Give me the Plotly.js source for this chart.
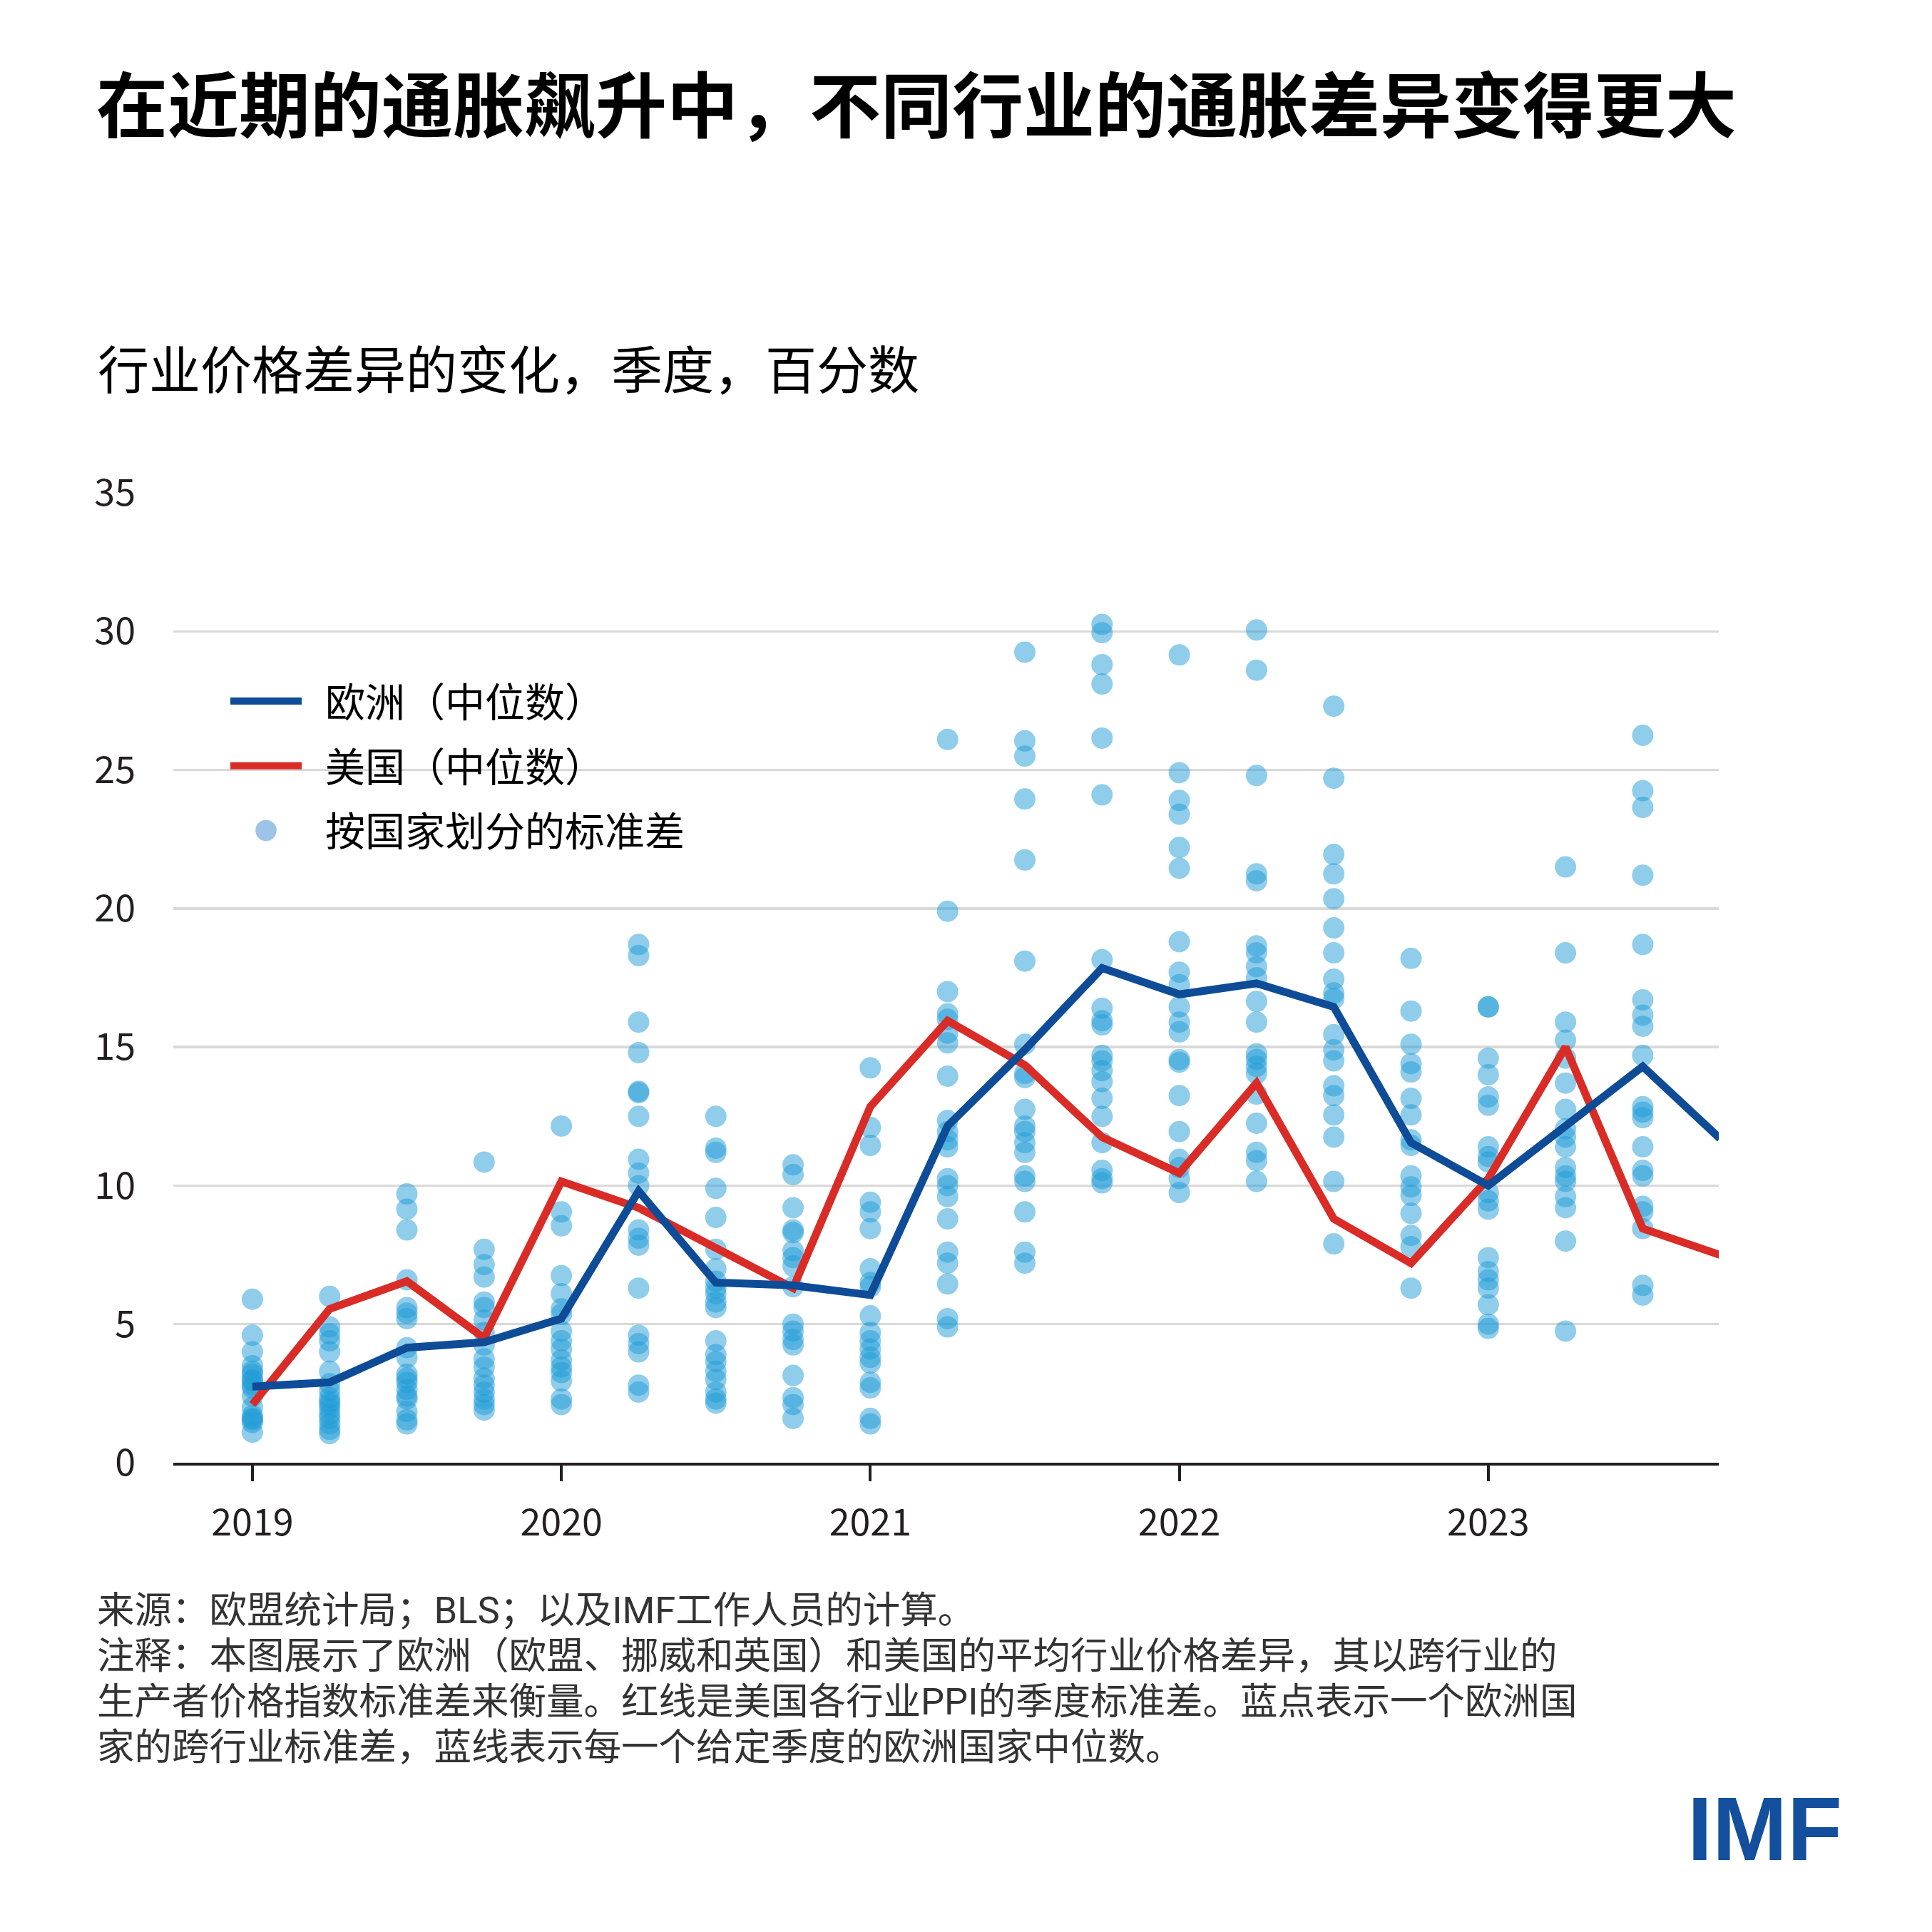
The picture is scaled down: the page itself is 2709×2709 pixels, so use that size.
<!DOCTYPE html>
<html>
<head>
<meta charset="utf-8">
<script src="https://cdn.plot.ly/plotly-3.0.1.min.js"></script>
<style>html,body{margin:0;padding:0;background:#fff;}</style>
</head>
<body>
<div id="chart" style="width:2709px;height:2709px;"></div>
<script>
// ---------------- DATA ----------------
const quarters = ['2019Q1','2019Q2','2019Q3','2019Q4','2020Q1','2020Q2','2020Q3','2020Q4',
                  '2021Q1','2021Q2','2021Q3','2021Q4','2022Q1','2022Q2','2022Q3','2022Q4',
                  '2023Q1','2023Q2','2023Q3','2023Q4'];
const yearTicks = [2019, 2020, 2021, 2022, 2023];
const yearLabels = ['2019', '2020', '2021', '2022', '2023'];
const yTicks = [0, 5, 10, 15, 20, 25, 30, 35];

// Europe median and US sector PPI standard deviation, per quarter
const europeMedian = [2.75, 2.9, 4.15, 4.35, 5.2, 9.8, 6.5, 6.4, 6.05, 12.15, 14.9, 17.85, 16.9, 17.3, 16.45, 11.55, 10.0, 12.15, 14.3, 11.7];
const usMedian     = [2.1, 5.55, 6.55, 4.5, 10.15, 9.2, 7.75, 6.3, 12.85, 15.95, 14.35, 11.75, 10.45, 13.7, 8.8, 7.2, 10.25, 15.0, 8.45, 7.5];

// Cross-sector standard deviation by European country (one list per quarter)
const countrySD2019 = [
  [5.9, 4.6, 4.0, 3.5, 3.3, 3.2, 3.0, 2.95, 2.8, 2.7, 2.4, 2.0, 1.7, 1.6, 1.55, 1.45, 1.1],
  [6.0, 4.9, 4.65, 4.4, 4.0, 3.3, 2.85, 2.6, 2.35, 2.2, 2.1, 1.95, 1.75, 1.6, 1.4, 1.2, 1.05],
  [9.7, 9.15, 8.4, 6.6, 5.6, 5.4, 5.2, 4.15, 3.8, 3.2, 3.05, 2.9, 2.65, 2.4, 2.3, 1.85, 1.55, 1.4],
  [10.85, 7.7, 7.15, 6.7, 5.8, 5.6, 5.15, 4.7, 4.25, 3.75, 3.45, 3.05, 2.8, 2.55, 2.3, 2.1, 1.9]
];
const countrySD2020 = [
  [12.15, 9.05, 8.55, 6.75, 6.1, 5.55, 5.35, 4.75, 4.4, 4.1, 3.7, 3.45, 3.25, 2.95, 2.3, 2.1],
  [18.7, 18.3, 15.9, 14.8, 13.4, 13.35, 12.5, 10.95, 10.45, 10.0, 8.4, 8.1, 7.85, 6.3, 4.6, 4.3, 4.0, 2.8, 2.55],
  [12.5, 11.35, 11.2, 9.9, 8.85, 7.7, 7.0, 6.55, 6.3, 6.1, 5.8, 5.6, 4.4, 3.9, 3.65, 3.3, 3.0, 2.55, 2.3, 2.15],
  [10.75, 10.4, 9.2, 8.4, 8.3, 7.65, 7.4, 7.1, 6.35, 5.0, 4.75, 4.45, 4.25, 3.15, 2.35, 2.1, 1.6]
];
const countrySD2021 = [
  [14.25, 12.1, 11.45, 9.4, 9.05, 8.45, 7.0, 6.5, 6.35, 5.3, 4.7, 4.4, 4.1, 3.8, 3.6, 2.9, 2.7, 1.6, 1.4],
  [26.1, 19.9, 17.0, 16.2, 16.0, 15.5, 15.15, 13.95, 12.35, 11.95, 11.65, 11.4, 10.25, 10.0, 9.6, 8.8, 7.6, 7.2, 6.45, 5.2, 4.9],
  [29.25, 26.05, 25.5, 23.95, 21.75, 18.1, 15.1, 14.05, 13.9, 12.75, 12.15, 11.95, 11.55, 11.2, 10.35, 10.15, 9.05, 7.6, 7.2],
  [30.25, 29.95, 28.8, 28.1, 26.15, 24.1, 18.15, 16.4, 15.95, 15.8, 14.7, 14.5, 14.15, 13.75, 13.15, 12.5, 11.55, 10.55, 10.25, 10.1]
];
const countrySD2022 = [
  [29.15, 24.9, 23.9, 23.4, 22.2, 21.45, 18.8, 17.7, 17.25, 16.45, 15.9, 15.55, 14.55, 14.45, 13.25, 11.95, 10.95, 10.65, 10.25, 9.75],
  [30.05, 28.6, 24.8, 21.25, 21.0, 18.65, 18.4, 17.9, 17.5, 16.65, 15.9, 14.75, 14.55, 14.3, 14.05, 13.3, 12.25, 11.2, 10.9, 10.15],
  [27.3, 24.7, 21.95, 21.25, 20.35, 19.3, 18.4, 17.45, 16.95, 16.75, 15.45, 14.9, 14.5, 13.6, 13.25, 12.55, 11.75, 10.15, 7.9],
  [18.2, 16.3, 15.1, 14.4, 14.1, 13.15, 12.55, 11.65, 11.45, 10.35, 9.95, 9.65, 9.0, 8.2, 7.8, 6.3]
];
const countrySD2023 = [
  [16.45, 16.45, 14.6, 14.0, 13.2, 12.9, 11.4, 11.05, 10.85, 9.75, 9.45, 9.15, 7.4, 6.9, 6.6, 6.3, 5.7, 5.0, 4.85],
  [21.5, 18.4, 15.9, 15.25, 14.6, 13.7, 12.75, 12.05, 11.75, 11.4, 10.65, 10.35, 10.15, 9.6, 9.2, 8.0, 4.75],
  [26.25, 24.25, 23.65, 21.2, 18.7, 16.7, 16.15, 15.75, 14.7, 12.85, 12.65, 12.45, 11.4, 10.55, 10.35, 9.25, 9.05, 8.45, 6.4, 6.05],
  [21.3, 17.5, 17.1, 16.15, 15.65, 14.6, 12.25, 11.95, 11.55, 11.05, 10.85, 10.3, 9.85, 8.8, 8.65, 7.45, 7.15, 6.85, 6.3]
];

const seriesNames = ['欧洲（中位数）', '美国（中位数）', '按国家划分的标准差'];
const titleText = '在近期的通胀飙升中，不同行业的通胀差异变得更大';
const subtitleText = '行业价格差异的变化，季度，百分数';
const footerLines = [
  '来源：欧盟统计局；BLS；以及IMF工作人员的计算。',
  '注释：本图展示了欧洲（欧盟、挪威和英国）和美国的平均行业价格差异，其以跨行业的',
  '生产者价格指数标准差来衡量。红线是美国各行业PPI的季度标准差。蓝点表示一个欧洲国',
  '家的跨行业标准差，蓝线表示每一个给定季度的欧洲国家中位数。'
];

// ---------------- BUILD ----------------
function quarterToX(label) {
  const year = parseInt(label.slice(0, 4), 10);
  const q = parseInt(label.slice(5), 10);
  return year + (q - 1) / 4;
}
const xq = quarters.map(quarterToX);
const allSD = [].concat(countrySD2019, countrySD2020, countrySD2021, countrySD2022, countrySD2023);
const dotX = [], dotY = [];
allSD.forEach((vals, i) => vals.forEach(v => { dotX.push(xq[i]); dotY.push(v); }));

const FONT = '"Noto Sans CJK SC", "Noto Sans", sans-serif';
const FOOTFONT = 'Roboto, "Noto Sans CJK SC", sans-serif';
const INK = '#231f20';
const GAP = '\u2002';

const traces = [
  {
    type: 'scatter', mode: 'markers', x: dotX, y: dotY, showlegend: false,
    marker: { size: 30, color: 'rgb(31,155,215)', opacity: 0.5, line: { width: 0 } },
    cliponaxis: false, hoverinfo: 'skip'
  },
  {
    type: 'scatter', mode: 'lines', x: xq, y: usMedian, name: GAP + seriesNames[1],
    line: { color: '#da2c27', width: 11 }, cliponaxis: false, legendrank: 2, legendgroup: 'us'
  },
  {
    type: 'scatter', mode: 'lines', x: xq, y: europeMedian, name: GAP + seriesNames[0],
    line: { color: '#0e4c97', width: 11 }, cliponaxis: false, legendrank: 1, legendgroup: 'eu'
  },
  {
    type: 'scatter', mode: 'markers', x: [null], y: [null], name: GAP + seriesNames[2],
    marker: { size: 16, color: '#9dc3e6', line: { width: 0 } },
    legendrank: 3, legendgroup: 'sd'
  }
];

const L = 243, R = 2410, T = 691, B = 2051;
const PW = R - L, PH = B - T;
const px = v => (v - L) / PW;
const py = v => (B - v) / PH;

const footerY = [2258, 2322, 2386, 2450];
const annotations = [
  {
    text: subtitleText, xref: 'paper', yref: 'paper', x: px(135), y: py(513),
    xanchor: 'left', yanchor: 'middle', showarrow: false,
    font: { family: FONT, size: 72, color: '#000' }
  },
  {
    text: '<b>IMF</b>', xref: 'paper', yref: 'paper', x: px(2585), y: py(2564),
    xanchor: 'right', yanchor: 'middle', showarrow: false,
    font: { family: '"Liberation Sans", Arial, sans-serif', size: 126, color: '#134f9c' }
  }
];
footerLines.forEach((t, i) => annotations.push({
  text: t, xref: 'paper', yref: 'paper', x: px(135), y: py(footerY[i]),
  xanchor: 'left', yanchor: 'middle', showarrow: false, borderpad: 0,
  font: { family: FOOTFONT, size: 52.5, color: '#333333' }
}));

const layout = {
  width: 2709, height: 2709,
  margin: { l: L, r: 2709 - R, t: T, b: 2709 - B, pad: 0 },
  paper_bgcolor: '#ffffff', plot_bgcolor: '#ffffff',
  title: {
    text: titleText, xref: 'container', yref: 'container',
    x: 135 / 2709, xanchor: 'left', y: 1 - 150 / 2709, yanchor: 'middle',
    font: { family: FONT, size: 100, color: '#000', weight: 700 }
  },
  xaxis: {
    type: 'linear', range: [2018.744, 2023.746],
    tickvals: yearTicks, ticktext: yearLabels,
    showgrid: false, zeroline: false,
    showline: true, linecolor: INK, linewidth: 4,
    ticks: 'outside', ticklen: 22, tickwidth: 4, tickcolor: INK,
    ticklabelstandoff: 14,
    tickfont: { family: FONT, size: 52, color: INK }
  },
  yaxis: {
    range: [0, 35], tickvals: yTicks,
    showgrid: true, gridcolor: '#d9d9d9', gridwidth: 3.5,
    zeroline: false, showline: false, ticks: '',
    ticklabelstandoff: 52,
    tickfont: { family: FONT, size: 52, color: INK }
  },
  legend: {
    x: px(318), y: py(940), xanchor: 'left', yanchor: 'top',
    bgcolor: 'rgba(0,0,0,0)', borderwidth: 0,
    font: { family: FONT, size: 56, color: '#000' },
    itemwidth: 100, tracegroupgap: 15, traceorder: 'grouped'
  },
  shapes: [
    {
      type: 'rect', xref: 'paper', yref: 'y', x0: px(290), x1: px(1239), y0: 24, y1: 26,
      fillcolor: '#ffffff', line: { width: 0 }, layer: 'between'
    }
  ],
  annotations: annotations,
  showlegend: true,
  hovermode: false
};

function enlargeLegendDot(gd) {
  // legend caps marker size at 16px; scale the legend dot up to the chart's 30px markers
  gd.querySelectorAll('.legend .legendpoints path').forEach(p => {
    const t = p.getAttribute('transform') || '';
    if (t.indexOf('scale') === -1) p.setAttribute('transform', t + ' scale(1.85)');
  });
}

Plotly.newPlot('chart', traces, layout, { staticPlot: true, displayModeBar: false }).then(gd => {
  enlargeLegendDot(gd);
  gd.on('plotly_afterplot', () => enlargeLegendDot(gd));
});
</script>
</body>
</html>
